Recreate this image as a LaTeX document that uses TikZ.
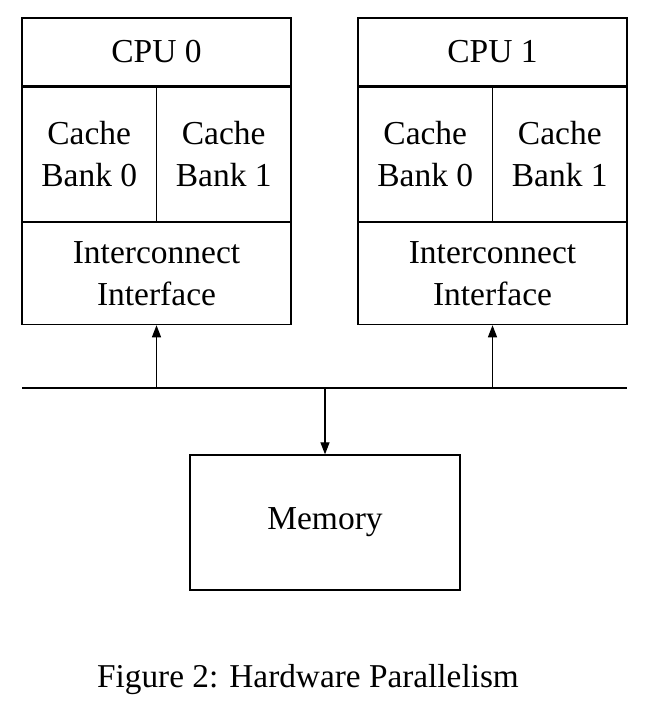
\documentclass[tikz,border=0pt]{standalone}
\usepackage{fontspec}
\setmainfont{Liberation Serif}
\usetikzlibrary{arrows.meta,positioning}
\tikzset{
  unit/.style={draw, line width=1.3pt, inner sep=0pt, align=center,
               font=\fontsize{33.5}{42}\selectfont},
  cpubox/.style={unit, minimum width=269pt, minimum height=68pt},
  bankbox/.style={unit, minimum width=134.5pt, minimum height=134pt},
  ifbox/.style={unit, minimum width=269pt, minimum height=102pt},
  membox/.style={unit, minimum width=270pt, minimum height=135pt},
  ar/.style={-{Triangle[length=12pt, width=9pt]}, line width=1.2pt},
}
\begin{document}
\begin{tikzpicture}[x=1pt, y=-1pt]
  \useasboundingbox (0,0) rectangle (654,703);
  % CPU 0
  \node[cpubox] (cpu0) at (156.5,52) {CPU 0};
  \node[bankbox, below=0pt of cpu0.south west, anchor=north west] (bank00) {Cache\\Bank 0};
  \node[bankbox, below=0pt of cpu0.south east, anchor=north east] (bank01) {Cache\\Bank 1};
  \node[ifbox, below=0pt of bank00.south west, anchor=north west] (if0) {Interconnect\\Interface};
  % CPU 1
  \node[cpubox] (cpu1) at (492.5,52) {CPU 1};
  \node[bankbox, below=0pt of cpu1.south west, anchor=north west] (bank10) {Cache\\Bank 0};
  \node[bankbox, below=0pt of cpu1.south east, anchor=north east] (bank11) {Cache\\Bank 1};
  \node[ifbox, below=0pt of bank10.south west, anchor=north west] (if1) {Interconnect\\Interface};
  % bus and memory
  \coordinate (busL) at (22,388);
  \coordinate (busR) at (627,388);
  \node[membox] (mem) at (325,522.5) {Memory};
  \draw[line width=1.2pt] (busL) -- (busR);
  \draw[ar] (if0.south |- busL) -- (if0.south);
  \draw[ar] (if1.south |- busL) -- (if1.south);
  \draw[ar] (mem.north |- busL) -- (mem.north);
  % caption
  \node[font=\fontsize{33.3}{40}\selectfont] (cap) at (308,680) {Figure 2: Hardware Parallelism};
\end{tikzpicture}
\end{document}
